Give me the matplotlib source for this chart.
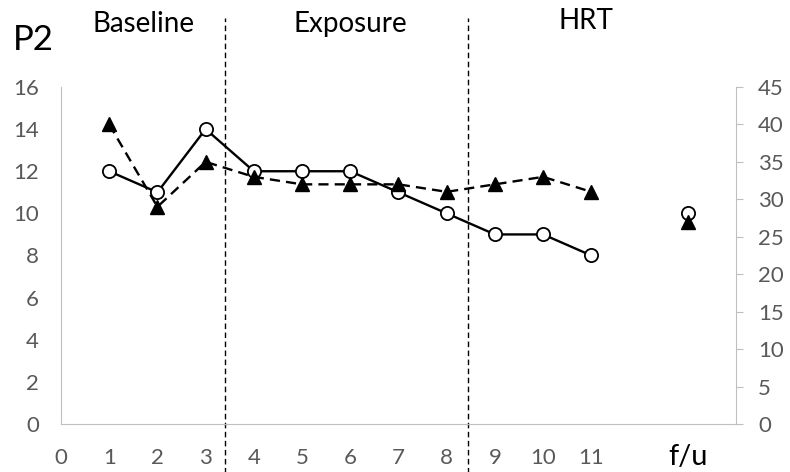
import matplotlib.pyplot as plt

plt.rcParams['font.family'] = ['Lato', 'DejaVu Sans']

sessions = [1, 2, 3, 4, 5, 6, 7, 8, 9, 10, 11]
p2_left = [12, 11, 14, 12, 12, 12, 11, 10, 9, 9, 8]
p2_right = [40, 29, 35, 33, 32, 32, 32, 31, 32, 33, 31]
fu_pos = 13
fu_left = 10
fu_right = 27
xtick_labels = ['0', '1', '2', '3', '4', '5', '6', '7', '8', '9', '10', '11']
phase_bounds = [3.4, 8.45]
phase_names = ['Baseline', 'Exposure', 'HRT']
phase_x = [144, 350, 586]
phase_y = [24, 24, 21]

grey = '#595959'
spine = '#bfbfbf'

fig = plt.figure(figsize=(7.9, 4.72), dpi=100)
ax = fig.add_axes([0.0772, 0.1017, 0.8544, 0.714])
ax2 = ax.twinx()

# solid line with open circles on the left scale
ax.plot(sessions, p2_left, color='black', lw=1.7, marker='o', ms=9.5,
        mfc='white', mec='black', mew=1.3, zorder=3)
ax.plot([fu_pos], [fu_left], ls='none', marker='o', ms=9.5,
        mfc='white', mec='black', mew=1.3, zorder=3)

# dashed line with filled triangles on the right scale
ax2.plot(sessions, p2_right, color='black', lw=1.7, ls=(0, (4.3, 2.6)),
         marker='^', ms=10, mfc='black', mec='black', zorder=2)
ax2.plot([fu_pos], [fu_right], ls='none', marker='^', ms=10,
         mfc='black', mec='black', zorder=2)

ax.set_xlim(0, 14)
ax.set_ylim(0, 16)
ax2.set_ylim(0, 45)
ax.set_xticks(range(len(xtick_labels)))
ax.set_xticklabels(xtick_labels)
ax.set_yticks(range(0, 17, 2))
ax2.set_yticks(range(0, 46, 5))

for a in (ax, ax2):
    for s in a.spines.values():
        s.set_visible(False)
ax.spines['left'].set_visible(True)
ax.spines['left'].set_color(spine)
ax.spines['bottom'].set_visible(True)
ax.spines['bottom'].set_color(spine)
ax2.spines['right'].set_visible(True)
ax2.spines['right'].set_color(spine)

ax.tick_params(axis='x', length=0, labelsize=16, labelcolor=grey, pad=17)
ax.tick_params(axis='y', length=0, labelsize=16, labelcolor=grey, pad=16)
ax2.tick_params(axis='y', length=5, color=spine, labelsize=16,
                labelcolor=grey, pad=11)

ax.text(13, -1.58, 'f/u', ha='center', va='center', fontsize=21, color='black')

# phase separators run past the axes
for xb in phase_bounds:
    ax.axvline(xb, ymin=-0.2, ymax=1.205, color='black', lw=1,
               ls=(0, (4, 2.5)), clip_on=False, zorder=1)

for name, px, py in zip(phase_names, phase_x, phase_y):
    fig.text(px / 790, 1 - py / 472, name, ha='center', va='center',
             fontsize=20, color='black')

fig.text(33 / 790, 1 - 40 / 472, 'P2', ha='center', va='center',
         fontsize=25, color='black')

fig.savefig('out.png', dpi=100)
